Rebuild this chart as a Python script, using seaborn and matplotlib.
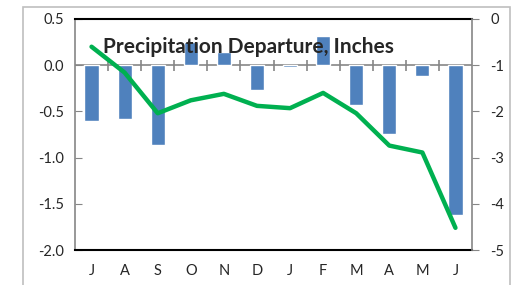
import pandas as pd
import matplotlib
matplotlib.use("Agg")
from matplotlib import pyplot as plt
from matplotlib.patches import Rectangle
import seaborn as sns

months = ["J", "A", "S", "O", "N", "D", "J", "F", "M", "A", "M", "J"]
monthly = [-0.60, -0.58, -0.86, 0.25, 0.14, -0.27, -0.02, 0.32, -0.43, -0.74, -0.12, -1.62]
cumulative = [-0.60, -1.16, -2.04, -1.76, -1.62, -1.88, -1.93, -1.60, -2.04, -2.74, -2.89, -4.52]

df = pd.DataFrame({"pos": range(len(months)), "month": months,
                   "monthly": monthly, "cumulative": cumulative})

sns.set_style("white")
plt.rcParams["font.family"] = ["Lato", "DejaVu Sans"]

grey = "#868686"
fig = plt.figure(figsize=(5.11, 2.85), dpi=100)
ax = fig.add_axes([75 / 511, 1 - 250 / 285, 397 / 511, 231 / 285])

sns.barplot(data=df, x="pos", y="monthly", color="#4F81BD", saturation=1,
            width=0.43, ax=ax, zorder=3)
ax.set_ylim(-2.0, 0.5)
ax.set_yticks([0.5, 0.0, -0.5, -1.0, -1.5, -2.0])
ax.set_yticklabels(["0.5", "0.0", "-0.5", "-1.0", "-1.5", "-2.0"])
ax.set_xlim(-0.5, 11.5)
ax.set_xticks(range(len(months)))
ax.set_xticklabels(months)
ax.set_xlabel("")
ax.set_ylabel("")
ax.tick_params(axis="x", length=0, pad=10, labelsize=10.5)
ax.tick_params(axis="y", direction="in", length=5, color=grey, left=True,
               labelsize=10.5, pad=8)
ax.spines["bottom"].set_color("black")
ax.spines["bottom"].set_linewidth(1.5)
ax.spines["top"].set_color("black")
ax.spines["top"].set_linewidth(1.5)
ax.spines["left"].set_color(grey)
ax.spines["left"].set_linewidth(1.2)
ax.spines["right"].set_visible(False)

# category axis crossing at zero, with ticks between categories
ax.axhline(0, color=grey, linewidth=1.2, zorder=2)
ax.vlines([i + 0.5 for i in range(len(months) - 1)], -0.06, 0.06,
          color=grey, linewidth=1.2, zorder=2)

ax2 = ax.twinx()
sns.lineplot(data=df, x="pos", y="cumulative", color="#00B050", linewidth=3.2,
             ax=ax2)
ax2.set_ylim(-5, 0)
ax2.set_yticks([0, -1, -2, -3, -4, -5])
ax2.set_yticklabels(["0", "-1", "-2", "-3", "-4", "-5"])
ax2.set_ylabel("")
ax2.set_xlabel("")
ax2.tick_params(axis="y", direction="out", length=5, color=grey, right=True,
                labelsize=10.5, pad=8)
for s in ["top", "bottom", "left"]:
    ax2.spines[s].set_visible(False)
ax2.spines["right"].set_color(grey)
ax2.spines["right"].set_linewidth(1.2)

ax.text(0.07, 0.88, "Precipitation Departure, Inches", transform=ax.transAxes,
        fontsize=15, fontweight="bold", va="center", ha="left", zorder=5)

fig.patches.append(Rectangle((23 / 511, -0.1), 487 / 511, 1.1 - 7 / 285,
                             transform=fig.transFigure, fill=False,
                             edgecolor="#BFBFBF", linewidth=1.2))

plt.savefig("out.png", dpi=100)
